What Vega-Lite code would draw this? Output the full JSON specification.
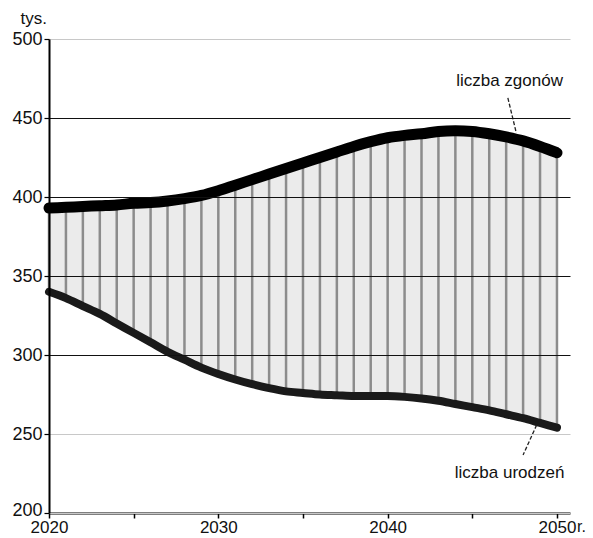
{
  "$schema": "https://vega.github.io/schema/vega-lite/v6.json",
  "width": 521,
  "height": 474,
  "autosize": "none",
  "padding": {"left": 49, "top": 39, "right": 23, "bottom": 25},
  "background": "white",
  "config": {"view": {"stroke": null}, "font": "Liberation Sans"},
  "datasets": {
    "series": [
      {"year": 2020, "deaths": 393, "births": 340},
      {"year": 2021, "deaths": 393.5, "births": 336},
      {"year": 2022, "deaths": 394, "births": 331},
      {"year": 2023, "deaths": 394.5, "births": 326},
      {"year": 2024, "deaths": 395, "births": 320},
      {"year": 2025, "deaths": 396, "births": 314},
      {"year": 2026, "deaths": 396.5, "births": 308},
      {"year": 2027, "deaths": 397.5, "births": 302},
      {"year": 2028, "deaths": 399, "births": 297},
      {"year": 2029, "deaths": 401, "births": 292},
      {"year": 2030, "deaths": 404, "births": 288},
      {"year": 2031, "deaths": 407.5, "births": 284.5},
      {"year": 2032, "deaths": 411, "births": 281.5},
      {"year": 2033, "deaths": 414.5, "births": 279},
      {"year": 2034, "deaths": 418, "births": 277},
      {"year": 2035, "deaths": 421.5, "births": 276},
      {"year": 2036, "deaths": 425, "births": 275},
      {"year": 2037, "deaths": 428.5, "births": 274.5},
      {"year": 2038, "deaths": 432, "births": 274},
      {"year": 2039, "deaths": 435, "births": 274},
      {"year": 2040, "deaths": 437.5, "births": 274},
      {"year": 2041, "deaths": 439, "births": 273.5},
      {"year": 2042, "deaths": 440, "births": 272.5},
      {"year": 2043, "deaths": 441.5, "births": 271},
      {"year": 2044, "deaths": 442, "births": 269},
      {"year": 2045, "deaths": 441.5, "births": 267},
      {"year": 2046, "deaths": 440, "births": 265},
      {"year": 2047, "deaths": 438, "births": 262.5},
      {"year": 2048, "deaths": 435.5, "births": 260},
      {"year": 2049, "deaths": 432, "births": 257},
      {"year": 2050, "deaths": 428, "births": 254}
    ],
    "labels": [
      {"x": 2047.2, "y": 470, "text": "liczba zgonów"},
      {"x": 2047.2, "y": 222, "text": "liczba urodzeń"}
    ],
    "leaders": [
      {"x": 2047.1, "x2": 2047.6, "y": 462.7, "y2": 440.5},
      {"x": 2048.8, "x2": 2048.0, "y": 255.7, "y2": 236.7}
    ],
    "unit": [{"x": 2050, "y": 200, "text": "r."}]
  },
  "layer": [
    {
      "data": {"name": "series"},
      "mark": {"type": "area", "fill": "#ebebeb", "stroke": null},
      "encoding": {
        "x": {
          "field": "year", "type": "quantitative",
          "scale": {"domain": [2020, 2050.77], "nice": false, "zero": false},
          "axis": {
            "values": [2020, 2025, 2030, 2035, 2040, 2045, 2050],
            "labelExpr": "datum.value % 10 == 0 ? datum.label : ''",
            "format": "d",
            "title": null,
            "grid": false,
            "domainColor": "black", "domainWidth": 2,
            "tickColor": "black", "tickSize": 5, "tickWidth": 1.5,
            "labelFont": "Liberation Sans", "labelFontSize": 17, "labelColor": "#111",
            "labelPadding": 1, "labelFlush": false
          }
        },
        "y": {
          "field": "births", "type": "quantitative",
          "scale": {"domain": [200, 500], "nice": false, "zero": false},
          "axis": {
            "values": [200, 250, 300, 350, 400, 450, 500],
            "title": "tys.", "titleAngle": 0, "titleAlign": "left", "titleBaseline": "alphabetic",
            "titleX": -29, "titleY": -16, "titleFont": "Liberation Sans", "titleFontSize": 17,
            "titleFontWeight": "normal", "titleColor": "#111",
            "grid": true,
            "gridColor": {"condition": {"test": "datum.value >= 300 && datum.value <= 450", "value": "#111"}, "value": "#c8c8c8"},
            "gridWidth": 1.2,
            "zindex": 1,
            "domainColor": "black", "domainWidth": 2,
            "tickColor": "black", "tickSize": 5, "tickWidth": 1.2,
            "labelFont": "Liberation Sans", "labelFontSize": 18, "labelColor": "#111", "labelPadding": 2,
            "labelOffset": {"condition": {"test": "datum.value == 200", "value": -3}, "value": 0}
          }
        },
        "y2": {"field": "deaths"}
      }
    },
    {
      "data": {"name": "series"},
      "mark": {"type": "rule", "stroke": "#8c8c8c", "strokeWidth": 2.5},
      "encoding": {
        "x": {"field": "year", "type": "quantitative"},
        "y": {"field": "births", "type": "quantitative"},
        "y2": {"field": "deaths"}
      }
    },
    {
      "data": {"name": "series"},
      "mark": {"type": "line", "stroke": "black", "strokeWidth": 11, "strokeCap": "round", "strokeJoin": "round", "interpolate": "monotone"},
      "encoding": {
        "x": {"field": "year", "type": "quantitative"},
        "y": {"field": "deaths", "type": "quantitative"}
      }
    },
    {
      "data": {"name": "series"},
      "mark": {"type": "line", "stroke": "#1a1a1a", "strokeWidth": 8, "strokeCap": "round", "strokeJoin": "round", "interpolate": "monotone"},
      "encoding": {
        "x": {"field": "year", "type": "quantitative"},
        "y": {"field": "births", "type": "quantitative"}
      }
    },
    {
      "data": {"name": "leaders"},
      "mark": {"type": "rule", "stroke": "#222", "strokeWidth": 1.3, "strokeDash": [4, 2]},
      "encoding": {
        "x": {"field": "x", "type": "quantitative"},
        "x2": {"field": "x2"},
        "y": {"field": "y", "type": "quantitative"},
        "y2": {"field": "y2"}
      }
    },
    {
      "data": {"name": "labels"},
      "mark": {"type": "text", "font": "Liberation Sans", "fontSize": 17, "color": "#111", "align": "center", "baseline": "alphabetic"},
      "encoding": {
        "x": {"field": "x", "type": "quantitative"},
        "y": {"field": "y", "type": "quantitative"},
        "text": {"field": "text"}
      }
    },
    {
      "data": {"name": "unit"},
      "mark": {"type": "text", "font": "Liberation Sans", "fontSize": 16, "color": "#111", "align": "left", "baseline": "alphabetic", "dx": 20, "dy": 19},
      "encoding": {
        "x": {"field": "x", "type": "quantitative"},
        "y": {"field": "y", "type": "quantitative"},
        "text": {"field": "text"}
      }
    }
  ]
}
